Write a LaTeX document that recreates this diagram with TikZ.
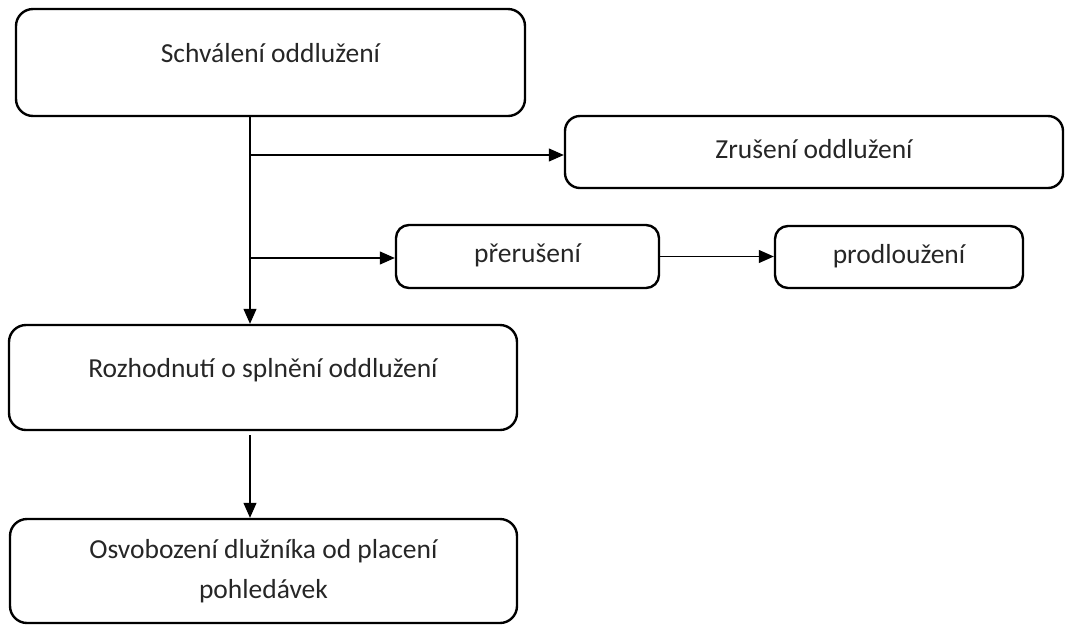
\documentclass[tikz,border=0pt]{standalone}
\usepackage{fontspec}
\setmainfont{Carlito}
\usetikzlibrary{arrows.meta}
\tikzset{
  >={Triangle[length=15pt,width=13pt]},
  x=1pt, y=-1pt,
}
\tikzstyle{every node}=[font=\fontsize{27.5}{40}\selectfont, text=black!85]
\tikzstyle{box}=[draw, line width=2.4pt, rounded corners=13pt, inner sep=0pt]
\tikzstyle{bigbox}=[box, rounded corners=17pt, text height=22pt, text depth=22pt]
\tikzstyle{smallbox}=[box, text height=19pt, text depth=6.9pt]
\tikzstyle{conn}=[line width=1.2pt,->]

\begin{document}
\begin{tikzpicture}
    \useasboundingbox (0,0) rectangle (1071,625);
    \node[bigbox, minimum width=509pt, minimum height=107pt] (schval) at (270.5,62.5) {Schválení oddlužení};
    \node[smallbox, rounded corners=15pt, minimum width=498pt, minimum height=72pt] (zrus) at (814,152) {Zrušení oddlužení};
    \node[smallbox, minimum width=263pt, minimum height=63pt] (preru) at (527.5,256.5) {přerušení};
    \node[smallbox, minimum width=248pt, minimum height=62pt] (prodl) at (899,257) {prodloužení};
    \node[bigbox, minimum width=508pt, minimum height=105pt] (rozh) at (263,377.5) {Rozhodnutí o splnění oddlužení};
    \node[box, rounded corners=17pt, align=center, minimum width=507pt, minimum height=104pt] (osvob) at (263.5,571)
    {Osvobození dlužníka od placení\\pohledávek};

    \coordinate (trunk) at (250,116);
    \coordinate (fork1) at (250,155);
    \coordinate (fork2) at (250,258);
    \draw[conn] (trunk) -- (trunk |- rozh.north);
    \draw[conn] (fork1) -- (fork1 -| zrus.west);
    \draw[conn] (fork2) -- (fork2 -| preru.west);
    \draw[conn] (preru.east) -- (preru.east -| prodl.west);
    \draw[conn] ([yshift=-4pt]rozh.south -| trunk) -- (osvob.north -| trunk);
  \end{tikzpicture}
\end{document}
